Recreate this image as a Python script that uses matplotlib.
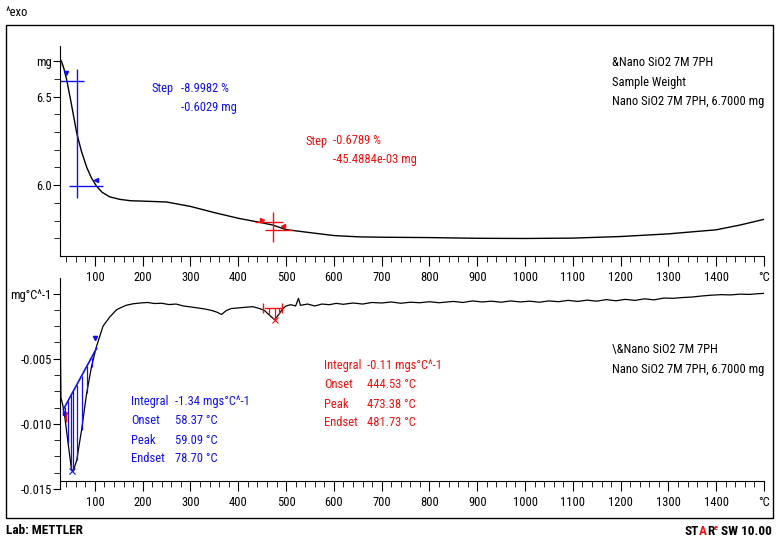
import numpy as np
import matplotlib
matplotlib.use('Agg')
import matplotlib.pyplot as plt
from matplotlib import font_manager
from matplotlib.patches import Rectangle

# the reference uses a narrow (Tahoma-like) face; take a condensed font if there is one
installed = {f.name for f in font_manager.fontManager.ttflist}
narrow = [n for n in ['Liberation Sans Narrow', 'Roboto Condensed', 'DejaVu Sans Condensed',
                      'Open Sans Condensed'] if n in installed]
if narrow:
    plt.rcParams['font.family'] = [narrow[0], 'DejaVu Sans']
    FS = 9
else:
    plt.rcParams['font.family'] = ['Liberation Sans', 'DejaVu Sans']
    FS = 8
plt.rcParams['font.size'] = FS

# --- TG curve (top): temperature (C) and mass (mg)
tg_temp = [27, 30, 35, 41, 50, 62, 72, 83, 93, 103, 115, 131, 152, 175, 200, 250, 300,
           347, 400, 445, 472, 500, 556, 602, 654, 700, 800, 900, 1000, 1100, 1200,
           1300, 1400, 1450, 1500]
tg_mass = [6.71, 6.70, 6.66, 6.595, 6.47, 6.294, 6.19, 6.10, 6.04, 5.996, 5.96, 5.934,
           5.92, 5.912, 5.91, 5.905, 5.88, 5.847, 5.813, 5.79, 5.775, 5.749, 5.730,
           5.715, 5.708, 5.706, 5.704, 5.700, 5.699, 5.701, 5.710, 5.725, 5.748,
           5.775, 5.807]

# --- DTG curve (bottom): temperature (C) and dm/dT (1e-3 mg/C)
dtg_temp = [28, 29, 33, 37, 44, 51, 55, 62, 72, 83, 93, 103, 117, 131, 145, 150, 165,
            180, 195, 210, 225, 240, 255, 270, 285, 300, 315, 330, 345, 355, 365, 375,
            385, 400, 415, 430, 445, 455, 465, 476, 485, 492, 500, 510, 520, 526, 530,
            545, 560, 575, 590, 605, 620, 640, 660, 680, 700, 720, 740, 760, 780, 800,
            820, 850, 870, 890, 910, 930, 950, 970, 990, 1010, 1030, 1050, 1070, 1090,
            1110, 1130, 1150, 1170, 1190, 1210, 1230, 1250, 1270, 1290, 1310, 1330,
            1350, 1370, 1390, 1410, 1430, 1450, 1470, 1490, 1500]
dtg_val = [-4.2, -8.0, -8.6, -9.45, -11.5, -13.5, -13.6, -12.8, -10.5, -7.6, -5.6, -4.1,
           -2.5, -1.8, -1.25, -1.15, -0.9, -0.78, -0.72, -0.68, -0.76, -0.74, -0.84,
           -0.80, -0.95, -1.02, -1.10, -1.18, -1.30, -1.42, -1.60, -1.30, -1.15, -1.10,
           -1.05, -1.00, -1.15, -1.30, -1.65, -2.00, -1.60, -1.20, -0.95, -0.85, -0.95,
           -0.36, -0.90, -0.80, -0.95, -0.80, -0.85, -0.75, -0.82, -0.72, -0.80, -0.68,
           -0.72, -0.64, -0.74, -0.66, -0.70, -0.62, -0.70, -0.60, -0.68, -0.56, -0.64,
           -0.58, -0.66, -0.56, -0.64, -0.58, -0.66, -0.56, -0.62, -0.52, -0.60, -0.50,
           -0.58, -0.46, -0.55, -0.44, -0.52, -0.40, -0.48, -0.34, -0.36, -0.30, -0.26,
           -0.18, -0.12, -0.08, -0.10, -0.04, -0.06, 0.00, 0.02]

# --- step evaluation marks (TG)
step1_vline = [62, 5.926, 6.657]          # temp, ymin, ymax
step1_upper = [27, 77, 6.591]             # xmin, xmax, mass
step1_lower = [46, 117, 5.996]
step2_vline = [472, 5.677, 5.847]
step2_upper = [434, 493, 5.792]
step2_lower = [455, 512, 5.745]

# --- peak integration marks (DTG)
peak1_base_t = [34, 103.5]
peak1_base_v = [-8.9, -4.2]
peak1_x = [53, -13.6]
peak2_base_t = [455, 492]
peak2_base_v = [-1.1, -1.1]
peak2_x = [476, -2.0]

x_major = list(range(100, 1500, 100)) + [1500]
x_labels = [str(t) for t in range(100, 1500, 100)] + ['°C']

W, H = 776, 541
fig = plt.figure(figsize=(W / 100, H / 100), dpi=100)

ax1 = fig.add_axes([60 / W, 1 - 256 / H, 704 / W, 210 / H])
ax2 = fig.add_axes([60 / W, 1 - 488.9 / H, 704 / W, 210.9 / H])

blue = '#1010f0'
red = '#f01010'

for ax in (ax1, ax2):
    ax.set_xlim(27, 1500)
    ax.spines['top'].set_visible(False)
    ax.spines['right'].set_visible(False)
    ax.set_xticks(x_major)
    ax.set_xticklabels(x_labels)
    ax.set_xticks(np.arange(40, 1500, 20), minor=True)
    ax.tick_params(axis='x', which='major', length=7, pad=3.5, labelsize=FS)
    ax.tick_params(axis='x', which='minor', length=4.5)
    ax.tick_params(axis='y', which='major', length=5, pad=1, labelsize=FS)
    ax.tick_params(axis='y', which='minor', length=4)
    ax.patch.set_visible(False)

# top: TG
ax1.plot(tg_temp, tg_mass, color='black', lw=1)
ax1.set_ylim(5.6, 6.786)
ax1.set_yticks([6.0, 6.5, 6.7])
ax1.set_yticklabels(['6.0', '6.5', 'mg'])
ax1.set_yticks(np.arange(5.7, 6.75, 0.1), minor=True)

ax1.vlines(step1_vline[0], step1_vline[1], step1_vline[2], color=blue, lw=1)
ax1.hlines(step1_upper[2], step1_upper[0], step1_upper[1], color=blue, lw=1)
ax1.hlines(step1_lower[2], step1_lower[0], step1_lower[1], color=blue, lw=1)
ax1.plot([40], [6.632], marker='v', color=blue, ms=3)
ax1.plot([102], [6.03], marker='<', color=blue, ms=3)
ax1.plot([28], [6.69], marker='|', color=red, ms=6)

ax1.vlines(step2_vline[0], step2_vline[1], step2_vline[2], color=red, lw=1)
ax1.hlines(step2_upper[2], step2_upper[0], step2_upper[1], color=red, lw=1)
ax1.hlines(step2_lower[2], step2_lower[0], step2_lower[1], color=red, lw=1)
ax1.plot([450], [5.805], marker='>', color=red, ms=3)
ax1.plot([493], [5.77], marker='<', color=red, ms=3)

# bottom: DTG
dtg_t = np.array(dtg_temp)
dtg_v = np.array(dtg_val) * 1e-3
ax2.plot(dtg_t, dtg_v, color='black', lw=0.9)
ax2.set_ylim(-0.015, 0.0012)
ax2.spines['bottom'].set_position(('data', -0.01439))
ax2.set_yticks([-0.015, -0.010, -0.005, 0.0])
ax2.set_yticklabels(['-0.015', '-0.010', '-0.005', 'mg°C^-1'])
ax2.set_yticks(np.arange(-0.01375, 0.0, 0.00125), minor=True)

# blue peak area with vertical hatching
ax2.plot(peak1_base_t, np.array(peak1_base_v) * 1e-3, color=blue, lw=1.2)
sel = (dtg_t > peak1_base_t[0]) & (dtg_t < peak1_base_t[1])
base = np.interp(dtg_t[sel], peak1_base_t, np.array(peak1_base_v) * 1e-3)
ax2.vlines(dtg_t[sel], dtg_v[sel], base, color=blue, lw=0.9)
ax2.plot([peak1_x[0]], [peak1_x[1] * 1e-3], marker='x', color=blue, ms=4, mew=0.8)
ax2.plot([100], [-0.0034], marker='v', color=blue, ms=3)
ax2.plot([37], [-0.0092], marker='>', color=blue, ms=3)
ax2.plot([39], [-0.0095], marker='|', color=red, ms=7)
ax2.plot([27.5], [-0.0038], marker='|', color=red, ms=6)

# red peak area
ax2.plot(peak2_base_t, np.array(peak2_base_v) * 1e-3, color=red, lw=1)
sel = (dtg_t > peak2_base_t[0]) & (dtg_t < peak2_base_t[1])
base = np.interp(dtg_t[sel], peak2_base_t, np.array(peak2_base_v) * 1e-3)
ax2.vlines(dtg_t[sel], dtg_v[sel], base, color=red, lw=0.9)
ax2.plot([peak2_x[0]], [peak2_x[1] * 1e-3], marker='x', color=red, ms=4, mew=0.8)
ax2.plot([451, 492], [-0.0011, -0.0011], ls='none', marker='|', color=red, ms=7)


# annotation texts (pixel positions of the reference)
def ftext(x, y, s, **kw):
    kw.setdefault('va', 'center')
    return fig.text(x / W, 1 - y / H, s, **kw)


ftext(152, 88, 'Step', color=blue)
ftext(181, 88, '-8.9982 %', color=blue)
ftext(181, 107, '-0.6029 mg', color=blue)
ftext(305, 141, 'Step', color=red)
ftext(333, 141, '-0.6789 %', color=red)
ftext(333, 160, '-45.4884e-03 mg', color=red)

for i, (k, v) in enumerate([('Integral', '-1.34 mgs°C^-1'), ('Onset', '58.37 °C'),
                            ('Peak', '59.09 °C'), ('Endset', '78.70 °C')]):
    ftext(131, 402 + i * 19, k, color=blue)
    ftext(175, 402 + i * 19, v, color=blue)
for i, (k, v) in enumerate([('Integral', '-0.11 mgs°C^-1'), ('Onset', '444.53 °C'),
                            ('Peak', '473.38 °C'), ('Endset', '481.73 °C')]):
    ftext(324, 366 + i * 19, k, color=red)
    ftext(367, 366 + i * 19, v, color=red)

ftext(612, 63, '&Nano SiO2 7M 7PH')
ftext(612, 83, 'Sample Weight')
ftext(612, 102, 'Nano SiO2 7M 7PH, 6.7000 mg')
ftext(612, 350, '\\&Nano SiO2 7M 7PH')
ftext(612, 369, 'Nano SiO2 7M 7PH, 6.7000 mg')

ftext(6, 13, '^exo')
ftext(6, 531, 'Lab: METTLER', fontweight='bold', fontsize=FS + 0.5)

# STARe logo: pieces placed one after the other, right edge at x=772
renderer = fig.canvas.get_renderer()
pieces = [('ST', 'black', FS + 0.5, 0), ('A', red, FS + 0.5, 0), ('R', 'black', FS + 0.5, 0),
          ('e', red, FS - 3, 5), (' SW 10.00', 'black', FS + 0.5, 0)]
texts = []
for s, c, fs, dy in pieces:
    t = ftext(0, 535 - dy, s, color=c, fontsize=fs, fontweight='bold', va='baseline')
    texts.append(t)
widths = [t.get_window_extent(renderer).width for t in texts]
x = 772 - sum(widths)
for t, w in zip(texts, widths):
    t.set_x(x / W)
    x += w

fig.add_artist(Rectangle((6 / W, 1 - 518 / H), 767 / W, 493 / H, transform=fig.transFigure,
                         fill=False, edgecolor='black', lw=1))

fig.savefig('out.png', dpi=100)
